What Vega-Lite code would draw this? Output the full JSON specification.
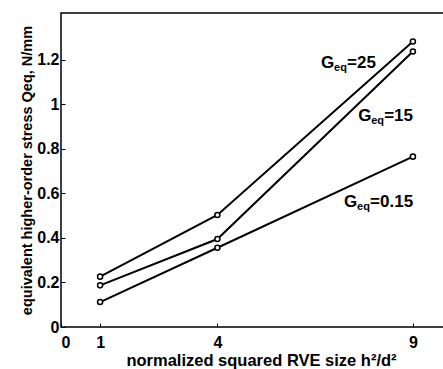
{
  "$schema": "https://vega.github.io/schema/vega-lite/v6.json",
  "width": 400,
  "height": 314,
  "autosize": {"type": "none"},
  "padding": {"left": 61, "top": 13, "right": 0, "bottom": 42},
  "background": "white",
  "config": {
    "view": {"stroke": "black", "strokeWidth": 1.5},
    "font": "Liberation Sans",
    "axis": {
      "grid": false,
      "domain": false,
      "tickColor": "black",
      "tickSize": -4,
      "labelColor": "black",
      "labelFont": "Liberation Sans",
      "labelFontSize": 16,
      "labelFontWeight": "bold",
      "titleColor": "black",
      "titleFont": "Liberation Sans",
      "titleFontWeight": "bold"
    }
  },
  "datasets": {
    "series": [
      {"g": "25", "h2d2": 1, "q": 0.226},
      {"g": "25", "h2d2": 4, "q": 0.503},
      {"g": "25", "h2d2": 9, "q": 1.282},
      {"g": "15", "h2d2": 1, "q": 0.187},
      {"g": "15", "h2d2": 4, "q": 0.395},
      {"g": "15", "h2d2": 9, "q": 1.237},
      {"g": "0.15", "h2d2": 1, "q": 0.112},
      {"g": "0.15", "h2d2": 4, "q": 0.356},
      {"g": "0.15", "h2d2": 9, "q": 0.765}
    ],
    "labels": [
      {"x": 6.65, "y": 1.187, "value": "=25"},
      {"x": 7.6, "y": 0.948, "value": "=15"},
      {"x": 7.24, "y": 0.562, "value": "=0.15"}
    ]
  },
  "layer": [
    {
      "data": {"name": "series"},
      "mark": {"type": "line", "color": "black", "strokeWidth": 2},
      "encoding": {
        "x": {
          "field": "h2d2", "type": "quantitative",
          "scale": {"domain": [0, 10.23], "nice": false, "zero": false},
          "axis": {"values": [0, 1, 4, 9], "labelPadding": 11, "title": "normalized squared RVE size h²/d²", "titleFontSize": 16.5, "titlePadding": 2}
        },
        "y": {
          "field": "q", "type": "quantitative",
          "scale": {"domain": [0, 1.41], "nice": false},
          "axis": {"values": [0, 0.2, 0.4, 0.6, 0.8, 1, 1.2], "format": "~g", "labelPadding": 6, "title": "equivalent higher-order stress Qeq, N/mm", "titleFontSize": 14.5, "titlePadding": 2}
        },
        "detail": {"field": "g"}
      }
    },
    {
      "data": {"name": "series"},
      "mark": {"type": "point", "shape": "circle", "filled": false, "color": "black", "size": 26, "strokeWidth": 1.5, "fill": "white", "fillOpacity": 1},
      "encoding": {
        "x": {"field": "h2d2", "type": "quantitative"},
        "y": {"field": "q", "type": "quantitative"}
      }
    },
    {
      "data": {"name": "labels"},
      "mark": {"type": "text", "align": "left", "baseline": "middle", "fontSize": 17, "fontWeight": "bold", "color": "black", "text": "G"},
      "encoding": {
        "x": {"field": "x", "type": "quantitative"},
        "y": {"field": "y", "type": "quantitative"}
      }
    },
    {
      "data": {"name": "labels"},
      "mark": {"type": "text", "align": "left", "baseline": "middle", "fontSize": 11, "fontWeight": "bold", "color": "black", "text": "eq", "dx": 13, "dy": 5},
      "encoding": {
        "x": {"field": "x", "type": "quantitative"},
        "y": {"field": "y", "type": "quantitative"}
      }
    },
    {
      "data": {"name": "labels"},
      "mark": {"type": "text", "align": "left", "baseline": "middle", "fontSize": 17, "fontWeight": "bold", "color": "black", "dx": 26},
      "encoding": {
        "x": {"field": "x", "type": "quantitative"},
        "y": {"field": "y", "type": "quantitative"},
        "text": {"field": "value"}
      }
    }
  ]
}
